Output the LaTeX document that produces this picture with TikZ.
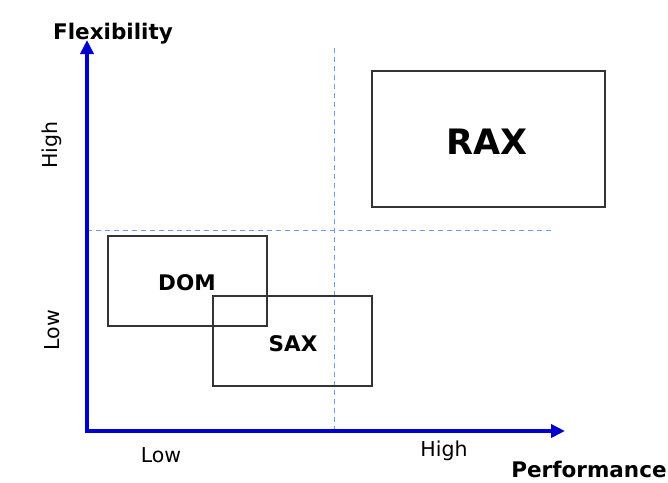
\documentclass[tikz,border=0pt]{standalone}
\usepackage{fontspec}
\setmainfont{DejaVu Sans}
\usetikzlibrary{arrows.meta}
\definecolor{axisblue}{HTML}{0000CC}
\definecolor{guideblue}{HTML}{6E9BE8}
\tikzset{
  axis/.style={draw=axisblue, line width=4pt, -{Triangle[length=14pt,width=13pt]}},
  guide/.style={draw=guideblue, line width=1pt, dash pattern=on 5pt off 4pt},
  region/.style={draw=black!80, line width=1.3pt, fill=none},
  boxlabel/.style={font=\bfseries\fontsize{21.5}{26}\selectfont},
  axislabel/.style={font=\bfseries\fontsize{21.5}{26}\selectfont},
  ticklabel/.style={font=\fontsize{20.5}{25}\selectfont}
}
\begin{document}
\begin{tikzpicture}[x=1pt, y=-1pt]
  \useasboundingbox (0,0) rectangle (668,482);
  % dashed quadrant guides
  \coordinate (vtop) at (334,48);
  \coordinate (vbot) at (334,432);
  \coordinate (hleft) at (87,230);
  \coordinate (hright) at (553,230);
  \draw[guide] (vtop) -- (vbot);
  \draw[guide] (hleft) -- (hright);
  % regions
  \draw[region] (108,236) rectangle (267,326);
  \draw[region] (213,296) rectangle (372,386);
  \draw[region] (372,71) rectangle (605,207);
  \node[boxlabel] (dom) at (187,283) {DOM};
  \node[boxlabel] (sax) at (293,344) {SAX};
  \node[font=\bfseries\fontsize{35}{40}\selectfont] (rax) at (487,142) {RAX};
  % axes
  \coordinate (origin) at (87,431);
  \coordinate (ytip) at (87,40);
  \coordinate (xtip) at (565,431);
  \draw[axis] (origin) ++(0,2) -- (ytip);
  \draw[axis] (origin) ++(-2,0) -- (xtip);
  % axis titles
  \node[axislabel] (flex) at (113,34) {Flexibility};
  \node[axislabel] (perf) at (589,469) {Performance};
  % tick labels
  \node[ticklabel, rotate=90] (yhigh) at (52,145) {High};
  \node[ticklabel, rotate=90] (ylow) at (52,330) {Low};
  \node[ticklabel] (xlow) at (161,455) {Low};
  \node[ticklabel] (xhigh) at (444,451) {High};
\end{tikzpicture}
\end{document}
